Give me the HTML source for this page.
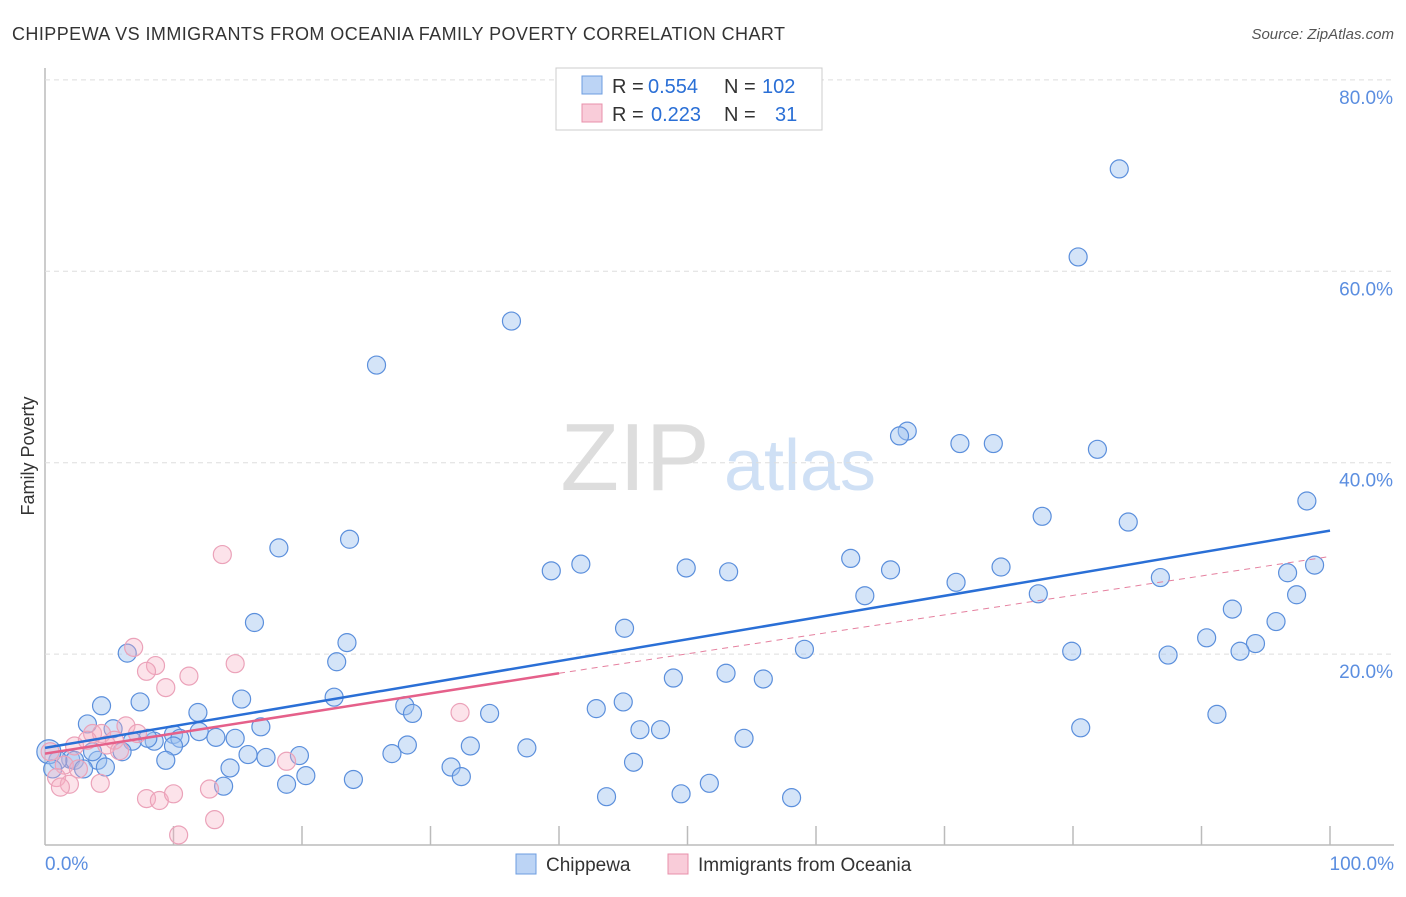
<!DOCTYPE html>
<html><head><meta charset="utf-8"><style>
body{margin:0;background:#fff;font-family:"Liberation Sans",sans-serif}
svg text{font-family:"Liberation Sans",sans-serif}
</style></head><body>
<svg id="c" width="1406" height="892">
<text x="12" y="40" font-size="18" fill="#333" textLength="773">CHIPPEWA VS IMMIGRANTS FROM OCEANIA FAMILY POVERTY CORRELATION CHART</text>
<text x="1394" y="39" font-size="15" fill="#555" text-anchor="end" font-style="italic">Source: ZipAtlas.com</text>
<text x="34" y="456" font-size="18" fill="#333" transform="rotate(-90 34 456)" text-anchor="middle">Family Poverty</text>
<g><text x="635" y="490" font-size="96" fill="#ddd" font-family="Liberation Serif" text-anchor="middle">ZIP</text><text x="800" y="490" font-size="72" fill="#cfe0f5" text-anchor="middle">atlas</text></g>
<g id="grid"></g><g id="pts"></g><g id="lines"></g>
<g>
<rect x="556" y="68" width="266" height="62" fill="#fff" stroke="#ccc"/>
<rect x="582" y="76" width="20" height="18" fill="#bcd4f5" stroke="#6d9de0"/>
<rect x="582" y="104" width="20" height="18" fill="#f9ccd9" stroke="#e890ab"/>
<text x="612" y="93" font-size="20" fill="#333">R =</text><text x="648" y="93" font-size="20" fill="#2a6fd6">0.554</text>
<text x="724" y="93" font-size="20" fill="#333">N =</text><text x="762" y="93" font-size="20" fill="#2a6fd6">102</text>
<text x="612" y="121" font-size="20" fill="#333">R =</text><text x="651" y="121" font-size="20" fill="#2a6fd6">0.223</text>
<text x="724" y="121" font-size="20" fill="#333">N =</text><text x="775" y="121" font-size="20" fill="#2a6fd6">31</text>
</g>
<g>
<rect x="516" y="854" width="20" height="20" fill="#bcd4f5" stroke="#6d9de0"/>
<text x="546" y="871" font-size="19" fill="#333">Chippewa</text>
<rect x="668" y="854" width="20" height="20" fill="#f9ccd9" stroke="#e890ab"/>
<text x="698" y="871" font-size="19" fill="#333">Immigrants from Oceania</text>
</g>
</svg>
<script>
const xTicks=[0,10,20,30,40,50,60,70,80,90,100];
const yTicks=[20,40,60,80];
const blueX=[83.6,80.4,36.3,25.8,67.1,66.5,71.2,73.8,81.9,77.6,84.3,98.2,23.7,18.2,62.7,41.7,39.4,49.9,53.2,65.8,74.4,70.9,86.8,96.7,98.8,63.8,77.3,97.4,92.4,95.8,16.3,45.1,23.5,90.4,94.2,93,59.1,79.9,87.4,6.4,22.7,53,48.9,55.9,7.4,15.3,22.5,4.4,11.9,28,28.6,34.6,42.9,45,91.2,3.3,5.3,10.0,12.0,16.8,10.5,8.5,10.0,8.0,6.8,13.3,14.8,46.3,47.9,80.6,54.4,2.0,2.3,4.1,28.2,33.1,37.5,17.2,15.8,19.8,27,9.4,6.0,3.7,1.0,0.3,14.4,4.7,0.6,20.3,24.0,31.6,32.4,45.8,13.9,18.8,43.7,49.5,51.7,58.1,3.0];
const blueY=[70.7,61.5,54.8,50.2,43.3,42.8,42.0,42.0,41.4,34.4,33.8,36.0,32.0,31.1,30,29.4,28.7,29,28.6,28.8,29.1,27.5,28.0,28.5,29.3,26.1,26.3,26.2,24.7,23.4,23.3,22.7,21.2,21.7,21.1,20.3,20.5,20.3,19.9,20.1,19.2,18.0,17.5,17.4,15.0,15.3,15.5,14.6,13.9,14.6,13.8,13.8,14.3,15.0,13.7,12.7,12.2,11.6,11.9,12.4,11.2,10.9,10.4,11.2,10.9,11.3,11.2,12.1,12.1,12.3,11.2,9.0,8.9,8.9,10.5,10.4,10.2,9.2,9.5,9.4,9.6,8.9,9.8,9.8,8.9,9.8,8.1,8.2,8.0,7.3,6.9,8.2,7.2,8.7,6.2,6.4,5.1,5.4,6.5,5.0,8.0];
const pinkX=[13.8,6.9,8.6,7.9,9.4,11.2,14.8,3.7,4.4,6.3,7.2,4.8,2.3,3.3,5.4,1.5,2.6,0.9,1.9,4.3,1.2,12.8,7.9,8.9,10.0,13.2,10.4,18.8,32.3,5.8,0.4];
const pinkY=[30.4,20.7,18.8,18.2,16.5,17.7,19.0,11.7,11.7,12.5,11.7,10.5,10.4,11.0,11.0,8.4,8.0,7.1,6.4,6.5,6.1,5.9,4.9,4.7,5.4,2.7,1.1,8.8,13.9,9.9,9.8];
const blueFit=[[0,10.2],[100,32.9]];
const pinkFit=[[0,9.6],[40,18.0],[100,30.2]];
const X=v=>45+v*12.85, Y=v=>845.5-v*9.57;
const NS='http://www.w3.org/2000/svg';
function mk(t,a,p){const e=document.createElementNS(NS,t);for(const k in a)e.setAttribute(k,a[k]);p.appendChild(e);return e;}
const g=document.getElementById('grid');
mk('line',{x1:45,y1:68,x2:45,y2:845,stroke:'#bbb','stroke-width':1.5},g);
mk('line',{x1:45,y1:845,x2:1394,y2:845,stroke:'#bbb','stroke-width':1.5},g);
yTicks.forEach(v=>{
 const l=mk('line',{x1:45,y1:Y(v),x2:1394,y2:Y(v),stroke:'#ddd','stroke-dasharray':'5,4'},g);
 
 
 const t=mk('text',{x:1393,y:Y(v)+24,'font-size':19,fill:'#5b8ee0','text-anchor':'end'},g);
 t.textContent=v.toFixed(1)+'%';
 
 
});
xTicks.forEach(v=>{
 if(v>0){const l=mk('line',{x1:X(v),y1:826,x2:X(v),y2:845,stroke:'#bbb','stroke-width':1.5},g);
 
 }
});
[[0,'0.0%','start',45],[100,'100.0%','end',1394]].forEach(a=>{
 const t=mk('text',{x:a[3],y:870,'font-size':19,fill:'#5b8ee0','text-anchor':a[2]},g);t.textContent=a[1];
 
 
});
const p=document.getElementById('pts');
blueX.forEach((v,i)=>{const c=mk('circle',{cx:X(v),cy:Y(blueY[i]),r:v===0.3?12:9,fill:'rgba(160,195,240,0.45)',stroke:'#5b8fdc','stroke-width':1.2},p);
 
 });
pinkX.forEach((v,i)=>{const c=mk('circle',{cx:X(v),cy:Y(pinkY[i]),r:9,fill:'rgba(245,175,195,0.35)',stroke:'#eba2b9','stroke-width':1.2},p);
 
 });
const L=document.getElementById('lines');
const b=mk('line',{x1:X(blueFit[0][0]),y1:Y(blueFit[0][1]),x2:X(blueFit[1][0]),y2:Y(blueFit[1][1]),stroke:'#2a6fd6','stroke-width':2.5},L);


const q=mk('line',{x1:X(pinkFit[0][0]),y1:Y(pinkFit[0][1]),x2:X(pinkFit[1][0]),y2:Y(pinkFit[1][1]),stroke:'#e5608a','stroke-width':2.5},L);


const d=mk('line',{x1:X(pinkFit[1][0]),y1:Y(pinkFit[1][1]),x2:X(pinkFit[2][0]),y2:Y(pinkFit[2][1]),stroke:'#e5809f','stroke-width':1,'stroke-dasharray':'6,5'},L);


</script>
</body></html>
